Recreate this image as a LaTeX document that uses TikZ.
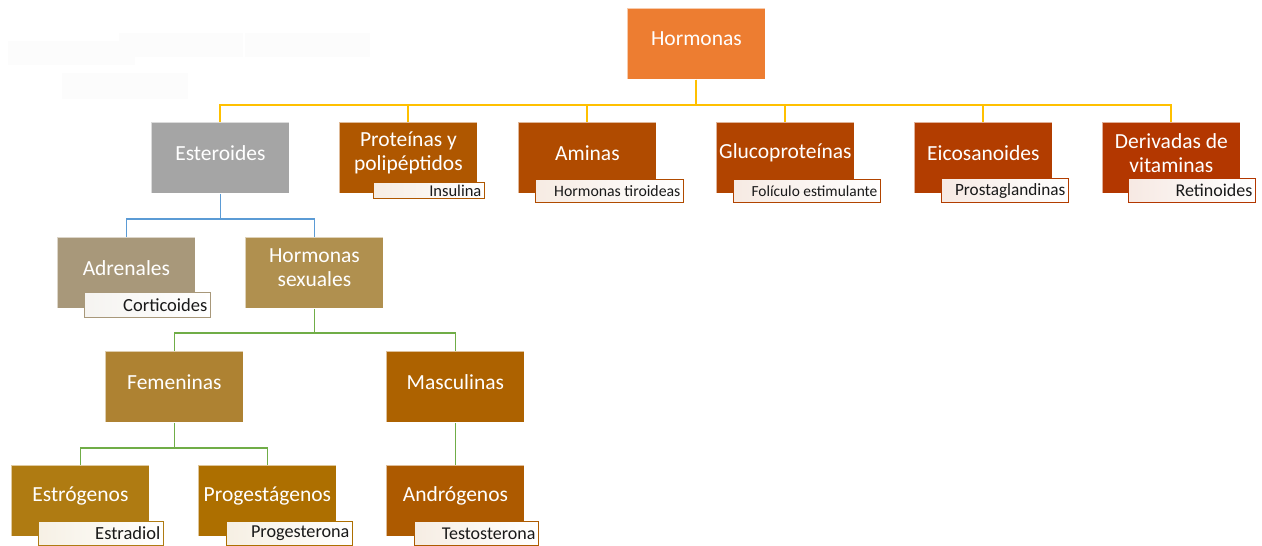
\documentclass[tikz,border=0pt]{standalone}
\usepackage{fontspec}
\setmainfont{Carlito}

% box fills
\definecolor{cHor}{HTML}{ED7D31}
\definecolor{cEst}{HTML}{A5A5A5}
\definecolor{cPro}{HTML}{AF5700}
\definecolor{cAmi}{HTML}{B04B00}
\definecolor{cGlu}{HTML}{B14400}
\definecolor{cEic}{HTML}{B23D00}
\definecolor{cDer}{HTML}{B33700}
\definecolor{cAdr}{HTML}{A8987A}
\definecolor{cSex}{HTML}{B0904F}
\definecolor{cFem}{HTML}{AE8232}
\definecolor{cMas}{HTML}{AD6200}
\definecolor{cEsg}{HTML}{AF7B12}
\definecolor{cPrg}{HTML}{AD6F00}
\definecolor{cAnd}{HTML}{AD5A00}
% connector colours
\definecolor{lYel}{HTML}{FFC000}
\definecolor{lBlu}{HTML}{5B9BD5}
\definecolor{lGrn}{HTML}{70AD47}
\definecolor{faint}{HTML}{FCFCFC}

\tikzset{
  hbox/.style={draw=white, draw opacity=0.6, line width=0.8pt,
    minimum width=138pt, minimum height=71pt, inner sep=0pt},
  htext/.style={text=white, align=center, inner sep=0pt,
    font=\fontsize{21.5}{23.5}\selectfont},
  tagframe/.style={line width=1.1pt, inner sep=0pt},
  tagtext/.style={text=black!90, inner sep=0pt},
  ylw/.style={draw=lYel, line width=2pt},
  blu/.style={draw=lBlu, line width=1.7pt},
  grn/.style={draw=lGrn, line width=1.7pt},
}

% coloured box: name, left, top, colour, text
\newcommand{\mkbox}[5]{%
  \node[hbox, fill=#4, anchor=north west] (#1) at (#2,#3) {};
  \node[htext] (#1-t) at ([yshift=5pt]#1.center) {#5};
}
% caption tag: name, x1, y1, x2, y2, colour, font size, text
\newcommand{\mktag}[8]{%
  \node[tagframe, draw=#6, left color=#6!11!white, middle color=white,
    right color=white, anchor=north west,
    minimum width={(#4-#2)*1pt}, minimum height={(#5-#3)*1pt}] (#1) at (#2,#3) {};
  \node[tagtext, font=\fontsize{#7}{#7}\selectfont, anchor=east]
    (#1-t) at ([xshift=-3.5pt]#1.east) {#8};
}

\begin{document}
\begin{tikzpicture}[x=1pt, y=-1pt]
\useasboundingbox (0,0) rectangle (1262,546);

% faint blocks at the upper left
\fill[faint] (8,41) rectangle (135,65);
\fill[faint] (119,33) rectangle (243,57);
\fill[faint] (245,33) rectangle (370,57);
\fill[faint] (62,73) rectangle (188,99);

% boxes
\mkbox{hor}{627}{8}{cHor}{Hormonas}
\mkbox{ste}{151}{122}{cEst}{Esteroides}
\mkbox{pro}{339}{122}{cPro}{Proteínas y\\polipéptidos}
\mkbox{ami}{518}{122}{cAmi}{Aminas}
\mkbox{glu}{716}{122}{cGlu}{Glucoproteínas}
\mkbox{eic}{914}{122}{cEic}{Eicosanoides}
\mkbox{der}{1102}{122}{cDer}{Derivadas de\\vitaminas}
\mkbox{adr}{57}{237}{cAdr}{Adrenales}
\mkbox{sex}{245}{237}{cSex}{Hormonas\\sexuales}
\mkbox{fem}{105}{351}{cFem}{Femeninas}
\mkbox{mas}{386}{351}{cMas}{Masculinas}
\mkbox{esg}{11}{465}{cEsg}{Estrógenos}
\mkbox{prg}{198}{465}{cPrg}{Progestágenos}
\mkbox{and}{386}{465}{cAnd}{Andrógenos}

% connectors
\draw[ylw] (hor.south) -- ++(0,25) -| (ste.north);
\draw[ylw] (hor.south) -- ++(0,25) -| (pro.north);
\draw[ylw] (hor.south) -- ++(0,25) -| (ami.north);
\draw[ylw] (hor.south) -- ++(0,25) -| (glu.north);
\draw[ylw] (hor.south) -- ++(0,25) -| (eic.north);
\draw[ylw] (hor.south) -- ++(0,25) -| (der.north);
\draw[blu] (ste.south) -- ++(0,25) -| (adr.north);
\draw[blu] (ste.south) -- ++(0,25) -| (sex.north);
\draw[grn] (sex.south) -- ++(0,24) -| (fem.north);
\draw[grn] (sex.south) -- ++(0,24) -| (mas.north);
\draw[grn] (fem.south) -- ++(0,25) -| (esg.north);
\draw[grn] (fem.south) -- ++(0,25) -| (prg.north);
\draw[grn] (mas.south) -- (and.north);

% caption tags
\mktag{tIns}{373}{182}{484}{198}{cPro}{16.5}{Insulina}
\mktag{tTir}{535}{179}{683}{202}{cAmi}{15.8}{Hormonas tiroideas}
\mktag{tFol}{733}{179}{880}{202}{cGlu}{15.4}{Folículo estimulante}
\mktag{tPgl}{941}{178}{1068}{202}{cEic}{17.2}{Prostaglandinas}
\mktag{tRet}{1128}{178}{1255}{202}{cDer}{18}{Retinoides}
\mktag{tCor}{84}{292}{210}{317}{cAdr}{18.5}{Corticoides}
\mktag{tEsd}{38}{521}{163}{545}{cEsg}{18.5}{Estradiol}
\mktag{tPrn}{226}{521}{352}{545}{cPrg}{18.2}{Progesterona}
\mktag{tTes}{414}{521}{538}{545}{cAnd}{18}{Testosterona}
\end{tikzpicture}
\end{document}
